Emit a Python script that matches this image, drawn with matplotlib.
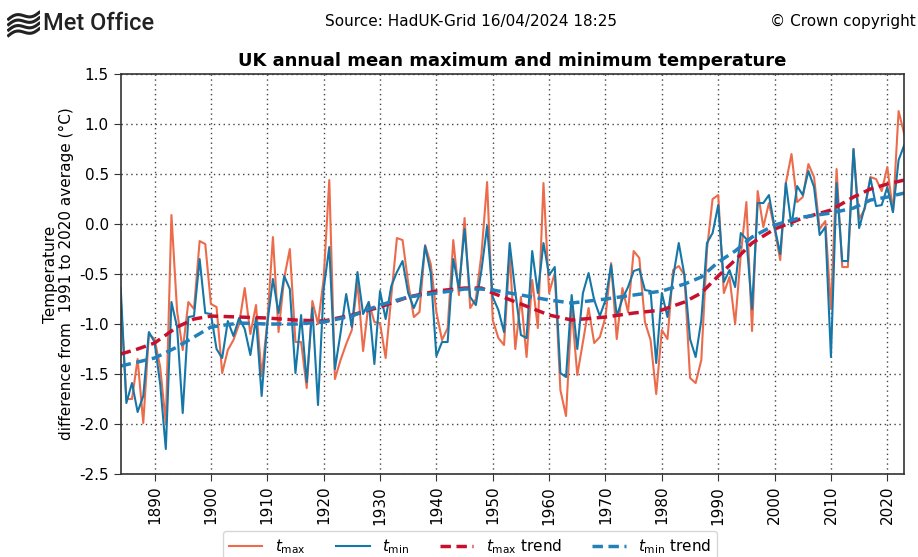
import numpy as np
import matplotlib
matplotlib.use("Agg")
import matplotlib.pyplot as plt

# values (anomaly vs 1991-2020, degC)
years = list(range(1884, 2024))

tmax = [
    -0.75, -1.75, -1.75, -1.35, -1.99, -1.10, -1.15, -1.43, -1.99, 0.09,   # 1884-1893
    -0.87, -1.26, -0.78, -0.85, -0.17, -0.20, -0.80, -0.83, -1.49, -1.26,  # 1894-1903
    -1.16, -1.00, -0.64, -1.10, -0.81, -1.52, -0.99, -0.13, -1.08, -0.54,  # 1904-1913
    -0.25, -1.18, -1.18, -1.64, -0.77, -1.00, -0.55, 0.44, -1.55, -1.36,   # 1914-1923
    -1.20, -1.06, -0.58, -1.27, -0.78, -0.98, -0.99, -1.34, -0.72, -0.14,  # 1924-1933
    -0.16, -0.59, -0.93, -0.88, -0.21, -0.40, -0.88, -1.16, -1.04, -0.16,  # 1934-1943
    -0.71, 0.06, -0.84, -0.75, -0.30, 0.42, -0.96, -1.14, -1.21, -0.30,    # 1944-1953
    -1.25, -0.73, -1.33, -0.56, -1.04, 0.41, -0.69, -0.49, -1.66, -1.92,   # 1954-1963
    -0.84, -1.51, -1.18, -0.84, -1.19, -1.13, -0.93, -0.39, -1.15, -0.64,  # 1964-1973
    -0.88, -0.27, -0.34, -0.98, -1.16, -1.70, -1.06, -1.15, -0.46, -0.42,  # 1974-1983
    -0.51, -1.54, -1.59, -1.36, -0.26, 0.25, 0.29, -0.69, -0.53, -1.00,    # 1984-1993
    -0.31, 0.22, -1.07, 0.33, -0.03, 0.21, -0.05, -0.36, 0.41, 0.70,       # 1994-2003
    0.22, 0.27, 0.60, 0.47, -0.05, 0.03, -0.85, 0.55, -0.43, -0.43,        # 2004-2013
    0.75, 0.05, 0.15, 0.47, 0.45, 0.33, 0.57, 0.12, 1.13, 0.90,            # 2014-2023
]

tmin = [
    -0.64, -1.79, -1.59, -1.88, -1.72, -1.08, -1.18, -1.60, -2.25, -0.78,  # 1884-1893
    -1.03, -1.89, -0.93, -0.92, -0.35, -0.89, -0.90, -1.25, -1.34, -0.97,  # 1894-1903
    -1.12, -0.94, -1.05, -1.31, -0.94, -1.72, -1.00, -0.55, -0.89, -0.52,  # 1904-1913
    -0.65, -1.49, -0.91, -1.58, -0.84, -1.81, -0.65, -0.23, -1.45, -1.09,  # 1914-1923
    -0.70, -1.03, -0.48, -0.90, -0.78, -1.40, -0.67, -0.95, -0.62, -0.48,  # 1924-1933
    -0.37, -0.69, -0.84, -0.71, -0.22, -0.49, -1.32, -1.18, -1.18, -0.35,  # 1934-1943
    -0.64, -0.05, -0.73, -0.81, -0.46, -0.02, -0.73, -0.86, -1.08, -0.19,  # 1944-1953
    -0.68, -1.11, -1.14, -0.27, -0.69, -0.19, -0.51, -0.43, -1.49, -1.53,  # 1954-1963
    -0.71, -1.25, -0.69, -0.49, -0.76, -0.92, -0.76, -0.41, -0.92, -0.75,  # 1964-1973
    -0.63, -0.47, -0.45, -0.66, -0.67, -1.39, -0.69, -0.93, -0.53, -0.19,  # 1974-1983
    -0.51, -1.15, -1.33, -0.96, -0.19, -0.09, 0.19, -0.58, -0.46, -0.63,   # 1984-1993
    -0.09, -0.15, -0.85, 0.21, 0.21, 0.29, -0.03, -0.30, 0.41, -0.02,      # 1994-2003
    0.38, 0.29, 0.53, 0.37, -0.11, -0.03, -1.33, 0.41, -0.37, -0.37,       # 2004-2013
    0.75, -0.04, 0.17, 0.46, 0.18, 0.19, 0.37, 0.12, 0.64, 0.79,           # 2014-2023
]

# smoothed trend curves, read at selected years
trend_years = [1884, 1887, 1890, 1894, 1897, 1900, 1905, 1910, 1915, 1920,
               1925, 1930, 1935, 1940, 1945, 1948, 1950, 1955, 1960, 1964,
               1970, 1975, 1980, 1984, 1987, 1990, 1993, 1996, 2000, 2005,
               2010, 2014, 2017, 2020, 2023]
tmax_trend = [-1.30, -1.25, -1.19, -1.03, -0.95, -0.92, -0.93, -0.94, -0.96, -0.97,
              -0.91, -0.83, -0.73, -0.67, -0.64, -0.64, -0.69, -0.80, -0.91, -0.96,
              -0.93, -0.89, -0.86, -0.78, -0.69, -0.52, -0.36, -0.19, -0.05, 0.06,
              0.14, 0.27, 0.35, 0.40, 0.44]
tmin_trend = [-1.42, -1.38, -1.34, -1.23, -1.13, -1.03, -0.99, -1.00, -1.00, -0.98,
              -0.92, -0.81, -0.73, -0.69, -0.65, -0.65, -0.66, -0.71, -0.76, -0.79,
              -0.75, -0.71, -0.67, -0.60, -0.53, -0.38, -0.27, -0.13, -0.01, 0.07,
              0.11, 0.16, 0.24, 0.27, 0.31]

xticks = list(range(1890, 2021, 10))
yticks = [-2.5, -2.0, -1.5, -1.0, -0.5, 0.0, 0.5, 1.0, 1.5]

c_tmax = '#EC6B4A'
c_tmin = '#1577A8'
c_tmax_tr = '#C8102E'
c_tmin_tr = '#2380BA'

plt.rcParams['font.family'] = ['DejaVu Sans']

fig = plt.figure(figsize=(9.18, 5.57), dpi=100)
ax = fig.add_axes([0.1315, 0.149, 0.8535, 0.718])

ax.plot(years, tmax, color=c_tmax, lw=1.5, label=r'$t_{\mathrm{max}}$')
ax.plot(years, tmin, color=c_tmin, lw=1.5, label=r'$t_{\mathrm{min}}$')
ax.plot(trend_years, tmax_trend, color=c_tmax_tr, lw=2.5, ls=(0, (3, 1.6)),
        label=r'$t_{\mathrm{max}}$ trend')
ax.plot(trend_years, tmin_trend, color=c_tmin_tr, lw=2.5, ls=(0, (3, 1.6)),
        label=r'$t_{\mathrm{min}}$ trend')

ax.set_xlim(1884, 2023)
ax.set_ylim(-2.5, 1.5)
ax.set_xticks(xticks)
ax.set_xticklabels([str(t) for t in xticks], rotation=90, fontsize=11)
ax.set_yticks(yticks)
ax.set_yticklabels([f'{t:.1f}' for t in yticks], fontsize=11)
ax.grid(True, ls=(0, (1, 2.5)), color='#444444', lw=1)
for s in ax.spines.values():
    s.set_color('#333333')
    s.set_linewidth(1.2)
ax.tick_params(length=5, color='#333333')

ax.set_ylabel('Temperature\ndifference from  1991 to 2020 average (\u00b0C)',
              fontsize=11, linespacing=1.1)
ax.set_title('UK annual mean maximum and minimum temperature',
             fontsize=13, fontweight='bold', pad=6)

fig.legend(loc='upper center', bbox_to_anchor=(0.512, 0.046), ncol=4,
           fontsize=11, frameon=True, handlelength=2.2, columnspacing=2.0,
           borderaxespad=0, edgecolor='#cccccc', fancybox=True)

# header
fig.text(0.513, 0.962, 'Source: HadUK-Grid 16/04/2024 18:25', ha='center',
         va='center', fontsize=11)
fig.text(0.998, 0.962, '\u00a9 Crown copyright', ha='right', va='center',
         fontsize=11)
fig.text(0.047, 0.958, 'Met Office', ha='left', va='center', fontsize=17,
         fontfamily='Roboto', fontweight='medium', fontstretch='condensed',
         color='#222222')

# little wave logo
lax = fig.add_axes([0.008, 0.930, 0.036, 0.058])
t = np.linspace(0, 1, 40)
for k in range(4):
    lax.plot(t, 0.22 * k + 0.12 * np.sin(t * 2 * np.pi) + 0.35 * t,
             color='#222222', lw=2.2, solid_capstyle='butt')
lax.set_xlim(0, 1)
lax.set_ylim(-0.1, 1.2)
lax.axis('off')

fig.savefig('out.png', dpi=100)
